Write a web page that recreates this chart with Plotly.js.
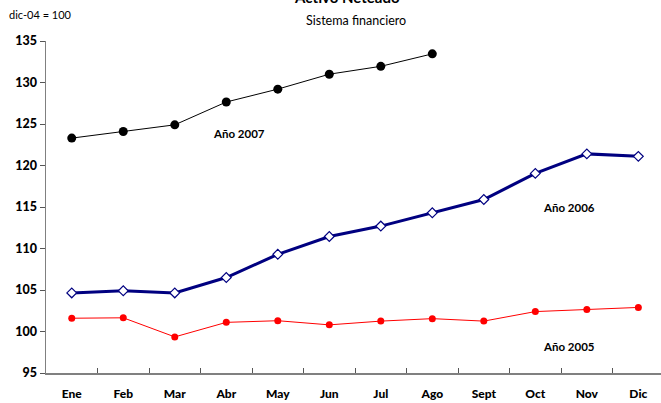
<!DOCTYPE html>
<html>
<head>
<meta charset="utf-8">
<script src="https://cdn.plot.ly/plotly-3.0.1.min.js"></script>
<style>html,body{margin:0;padding:0;background:#fff;}</style>
</head>
<body>
<div id="chart" style="width:661px;height:403px;"></div>
<script>
var months = ["Ene","Feb","Mar","Abr","May","Jun","Jul","Ago","Sept","Oct","Nov","Dic"];
var y2005 = [101.6,101.65,99.35,101.1,101.3,100.8,101.25,101.55,101.25,102.4,102.65,102.9];
var y2006 = [104.65,104.9,104.65,106.5,109.3,111.45,112.7,114.3,115.9,119.05,121.4,121.1];
var y2007 = [123.3,124.1,124.9,127.65,129.2,131.0,131.95,133.45];
var yTicks = [95,100,105,110,115,120,125,130,135];

var fontFam = "Lato, 'DejaVu Sans', sans-serif";

var traces = [
  {x: months, y: y2005, type: 'scatter', mode: 'lines+markers', name: 'Año 2005',
   line: {color: '#ff0000', width: 1}, marker: {color: '#ff0000', size: 7, symbol: 'circle'}},
  {x: months, y: y2006, type: 'scatter', mode: 'lines+markers', name: 'Año 2006',
   line: {color: '#000080', width: 3}, marker: {color: '#ffffff', size: 7.5, symbol: 'diamond', line: {color: '#000080', width: 1.2}}},
  {x: months.slice(0, y2007.length), y: y2007, type: 'scatter', mode: 'lines+markers', name: 'Año 2007',
   line: {color: '#000000', width: 1}, marker: {color: '#000000', size: 9, symbol: 'circle'}}
];

var layout = {
  width: 661, height: 403,
  margin: {l: 46, r: 0, t: 41, b: 30},
  paper_bgcolor: '#ffffff', plot_bgcolor: '#ffffff',
  showlegend: false,
  font: {family: fontFam, color: '#000'},
  xaxis: {
    type: 'category', categoryorder: 'array', categoryarray: months,
    range: [-0.5, 11.44],
    showgrid: false, zeroline: false,
    showline: true, linecolor: '#808080', linewidth: 2,
    ticks: 'inside', tickson: 'boundaries', ticklen: 5, tickcolor: '#555', tickwidth: 1,
    tickfont: {family: fontFam, size: 12, color: '#000', weight: 900},
    ticklabelstandoff: 9
  },
  yaxis: {
    range: [95, 135], tickvals: yTicks,
    showgrid: false, zeroline: false,
    showline: true, linecolor: '#808080', linewidth: 1.5,
    ticks: 'outside', ticklen: 5, tickcolor: '#555', tickwidth: 1,
    tickfont: {family: fontFam, size: 12.5, color: '#000', weight: 900}
  },
  annotations: [
    {text: 'Activo Neteado', xref: 'paper', yref: 'paper', x: 0.49, y: 1.133, showarrow: false,
     font: {family: fontFam, size: 15, weight: 'bold'}, xanchor: 'center', yanchor: 'middle'},
    {text: 'Sistema financiero', xref: 'paper', yref: 'paper', x: 0.504, y: 1.063, showarrow: false,
     font: {family: fontFam, size: 12.5}, xanchor: 'center', yanchor: 'middle'},
    {text: 'dic-04 = 100', xref: 'paper', yref: 'paper', x: -0.064, y: 1.081, showarrow: false,
     font: {family: fontFam, size: 11}, xanchor: 'left', yanchor: 'middle'},
    {text: 'Año 2007', xref: 'x', yref: 'y', x: 3.25, y: 123.8, showarrow: false,
     font: {family: fontFam, size: 11.5, weight: 'bold'}},
    {text: 'Año 2006', xref: 'x', yref: 'y', x: 9.65, y: 114.95, showarrow: false,
     font: {family: fontFam, size: 11.5, weight: 'bold'}},
    {text: 'Año 2005', xref: 'x', yref: 'y', x: 9.65, y: 98.15, showarrow: false,
     font: {family: fontFam, size: 11.5, weight: 'bold'}}
  ]
};

Plotly.newPlot('chart', traces, layout, {displayModeBar: false, staticPlot: true});
</script>
</body>
</html>
